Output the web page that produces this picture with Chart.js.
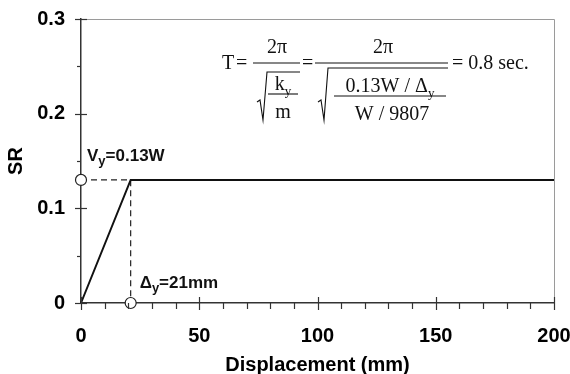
<!DOCTYPE html>
<html>
<head>
<meta charset="utf-8">
<script src="https://cdn.jsdelivr.net/npm/chart.js@4/dist/chart.umd.min.js"></script>
<style>
  html, body { margin: 0; padding: 0; background: #fff; }
  #wrap { width: 570px; height: 374px; }
</style>
</head>
<body>
<div id="wrap"><canvas id="c" width="570" height="374"></canvas></div>
<script>
// Idealised elastic-perfectly-plastic capacity curve
const dispMm = [0, 21, 200];
const srCurve = [0, 0.13, 0.13];
const yieldDisp = 21;      // mm
const yieldSR = 0.13;      // V_y / W
const xTicks = [0, 50, 100, 150, 200];
const xTickLabels = ['0', '50', '100', '150', '200'];
const yTicks = [0, 0.1, 0.2, 0.3];
const yTickLabels = ['0', '0.1', '0.2', '0.3'];
const xMinorStep = 10;
const yMinorStep = 0.05;

const sansFont = '"Liberation Sans", Arial, Helvetica, sans-serif';
const serifFont = '"Liberation Serif", "Times New Roman", Times, serif';
const ink = '#111';
const axisInk = '#333';

// Draws a run of text pieces (with optional subscripts) starting at x
function drawRun(ctx, x, y, parts, size, subSize, weight) {
  ctx.textBaseline = 'alphabetic';
  ctx.textAlign = 'left';
  for (const p of parts) {
    if (p.sub) {
      ctx.font = `${weight} ${subSize}px ${ctx._family}`;
      ctx.fillText(p.t, x, y + Math.round(size * 0.25));
    } else {
      ctx.font = `${weight} ${size}px ${ctx._family}`;
      ctx.fillText(p.t, x, y);
    }
    x += ctx.measureText(p.t).width;
  }
  return x;
}
function runWidth(ctx, parts, size, subSize, weight) {
  let w = 0;
  for (const p of parts) {
    ctx.font = `${weight} ${p.sub ? subSize : size}px ${ctx._family}`;
    w += ctx.measureText(p.t).width;
  }
  return w;
}
function drawRunCentered(ctx, cx, y, parts, size, subSize, weight) {
  const w = runWidth(ctx, parts, size, subSize, weight);
  return drawRun(ctx, cx - w / 2, y, parts, size, subSize, weight);
}
function hline(ctx, x1, x2, y) {
  ctx.beginPath(); ctx.moveTo(x1, y); ctx.lineTo(x2, y); ctx.stroke();
}
function radical(ctx, x, yTop, yBot, xEnd) {
  ctx.beginPath();
  ctx.moveTo(x, yBot - 18);
  ctx.lineTo(x + 3, yBot - 20);
  ctx.lineTo(x + 6, yBot);
  ctx.lineTo(x + 10, yTop);
  ctx.lineTo(xEnd, yTop);
  ctx.stroke();
}

const decorations = {
  id: 'decorations',
  afterDraw(chart) {
    const { ctx, chartArea: ca, scales: { x, y } } = chart;
    ctx.save();

    // light frame on top and right
    ctx.strokeStyle = '#9a9a9a';
    ctx.lineWidth = 1;
    ctx.beginPath();
    ctx.moveTo(ca.left, ca.top + 0.5);
    ctx.lineTo(ca.right + 0.5, ca.top + 0.5);
    ctx.lineTo(ca.right + 0.5, ca.bottom);
    ctx.stroke();

    // tick marks: majors cross the axis, minors point outward
    ctx.strokeStyle = axisInk;
    ctx.lineWidth = 1.2;
    const bx = ca.bottom, lx = ca.left;
    for (const v of xTicks) {
      const px = Math.round(x.getPixelForValue(v)) + 0.5;
      ctx.beginPath(); ctx.moveTo(px, bx - 6); ctx.lineTo(px, bx + 7); ctx.stroke();
    }
    for (let v = xMinorStep; v < x.max; v += xMinorStep) {
      if (xTicks.includes(v)) continue;
      const px = Math.round(x.getPixelForValue(v)) + 0.5;
      ctx.beginPath(); ctx.moveTo(px, bx); ctx.lineTo(px, bx + 6); ctx.stroke();
    }
    for (const v of yTicks) {
      const py = Math.round(y.getPixelForValue(v)) + 0.5;
      ctx.beginPath(); ctx.moveTo(lx - 6, py); ctx.lineTo(lx + 6, py); ctx.stroke();
    }
    for (let k = 1; k * yMinorStep < y.max; k++) {
      const v = +(k * yMinorStep).toFixed(3);
      if (yTicks.some(t => Math.abs(t - v) < 1e-9)) continue;
      const py = Math.round(y.getPixelForValue(v)) + 0.5;
      ctx.beginPath(); ctx.moveTo(lx - 4, py); ctx.lineTo(lx, py); ctx.stroke();
    }

    // yield annotations
    ctx.fillStyle = ink;
    ctx._family = sansFont;
    const vx = x.getPixelForValue(0), vy = y.getPixelForValue(yieldSR);
    drawRun(ctx, vx + 6, vy - 19,
      [{ t: 'V' }, { t: 'y', sub: true }, { t: '=' + yieldSR + 'W' }], 17, 13, 'bold');
    const dx = x.getPixelForValue(yieldDisp), dy = y.getPixelForValue(0);
    drawRun(ctx, dx + 9, dy - 15,
      [{ t: '\u0394' }, { t: 'y', sub: true }, { t: '=' + yieldDisp + 'mm' }], 17, 13, 'bold');

    // period formula
    ctx._family = serifFont;
    ctx.strokeStyle = ink;
    ctx.lineWidth = 1.1;
    const fs = 20, ss = 13, w = 'normal';
    const ox = ca.left, oy = ca.top;
    const base = oy + 50;      // main baseline
    const bar = oy + 44;       // main fraction bar
    drawRun(ctx, ox + 141, base, [{ t: 'T' }], fs, ss, w);
    drawRun(ctx, ox + 155, base, [{ t: '=' }], fs, ss, w);
    // 2π / sqrt(k_y / m)
    hline(ctx, ox + 172, ox + 219, bar);
    drawRunCentered(ctx, ox + 196, oy + 34, [{ t: '2\u03c0' }], fs, ss, w);
    radical(ctx, ox + 176, oy + 53, oy + 101, ox + 219);
    drawRunCentered(ctx, ox + 202, oy + 71, [{ t: 'k' }, { t: 'y', sub: true }], fs, ss, w);
    hline(ctx, ox + 187, ox + 217, oy + 75);
    drawRunCentered(ctx, ox + 202, oy + 99, [{ t: 'm' }], fs, ss, w);
    drawRun(ctx, ox + 221, base, [{ t: '=' }], fs, ss, w);
    // 2π / sqrt((0.13W/Δy) / (W/9807))
    hline(ctx, ox + 234, ox + 367, bar);
    drawRunCentered(ctx, ox + 302, oy + 34, [{ t: '2\u03c0' }], fs, ss, w);
    radical(ctx, ox + 237, oy + 49, oy + 101, ox + 367);
    drawRunCentered(ctx, ox + 309, oy + 73,
      [{ t: '0.13W / \u0394' }, { t: 'y', sub: true }], fs, ss, w);
    hline(ctx, ox + 253, ox + 365, oy + 77);
    drawRunCentered(ctx, ox + 311, oy + 101, [{ t: 'W / 9807' }], fs, ss, w);
    drawRun(ctx, ox + 371, base, [{ t: '= 0.8 sec.' }], fs, ss, w);

    ctx.restore();
  }
};

new Chart(document.getElementById('c'), {
  type: 'scatter',
  data: {
    datasets: [
      {
        label: 'markers',
        data: [{ x: 0, y: yieldSR }, { x: yieldDisp, y: 0 }],
        showLine: false,
        pointRadius: 5.5,
        pointBackgroundColor: '#fff',
        pointBorderColor: '#222',
        pointBorderWidth: 1.2,
        clip: false,
        order: 0
      },
      {
        label: 'capacity',
        data: dispMm.map((d, i) => ({ x: d, y: srCurve[i] })),
        showLine: true,
        borderColor: ink,
        borderWidth: 2,
        pointRadius: 0,
        clip: false,
        order: 1
      },
      {
        label: 'guides',
        data: [{ x: 0, y: yieldSR }, { x: yieldDisp, y: yieldSR }, { x: yieldDisp, y: 0 }],
        showLine: true,
        borderColor: '#222',
        borderWidth: 1.2,
        borderDash: [6, 4],
        pointRadius: 0,
        clip: false,
        order: 2
      }
    ]
  },
  options: {
    responsive: false,
    animation: false,
    devicePixelRatio: 1,
    layout: { padding: { top: 19, right: 16, left: 0, bottom: 0 } },
    plugins: { legend: { display: false }, tooltip: { enabled: false } },
    scales: {
      x: {
        type: 'linear',
        min: 0, max: 200,
        afterBuildTicks: s => { s.ticks = xTicks.map(v => ({ value: v })); },
        afterFit: s => {
          s.height = 71;
          s.paddingLeft = 0; s.paddingRight = 0;
        },
        ticks: {
          callback: (v, i) => xTickLabels[i],
          font: { family: sansFont, size: 20, weight: 'bold' },
          color: '#000',
          padding: 21,
          maxRotation: 0
        },
        grid: { display: false, drawTicks: false },
        border: { display: true, color: axisInk, width: 1.5 },
        title: {
          display: true,
          text: 'Displacement (mm)',
          font: { family: sansFont, size: 20, weight: 'bold' },
          color: '#000',
          padding: { top: 0, bottom: -3 }
        }
      },
      y: {
        type: 'linear',
        min: 0, max: 0.3,
        afterBuildTicks: s => { s.ticks = yTicks.map(v => ({ value: v })); },
        afterFit: s => {
          s.width = 81;
          s.paddingTop = 0; s.paddingBottom = 0;
        },
        ticks: {
          callback: (v, i) => yTickLabels[i],
          font: { family: sansFont, size: 20, weight: 'bold' },
          color: '#000',
          padding: 16
        },
        grid: { display: false, drawTicks: false },
        border: { display: true, color: axisInk, width: 1.5 },
        title: {
          display: true,
          text: 'SR',
          font: { family: sansFont, size: 20, weight: 'bold' },
          color: '#000',
          padding: { top: 4, bottom: 0 }
        }
      }
    }
  },
  plugins: [decorations]
});
</script>
</body>
</html>
